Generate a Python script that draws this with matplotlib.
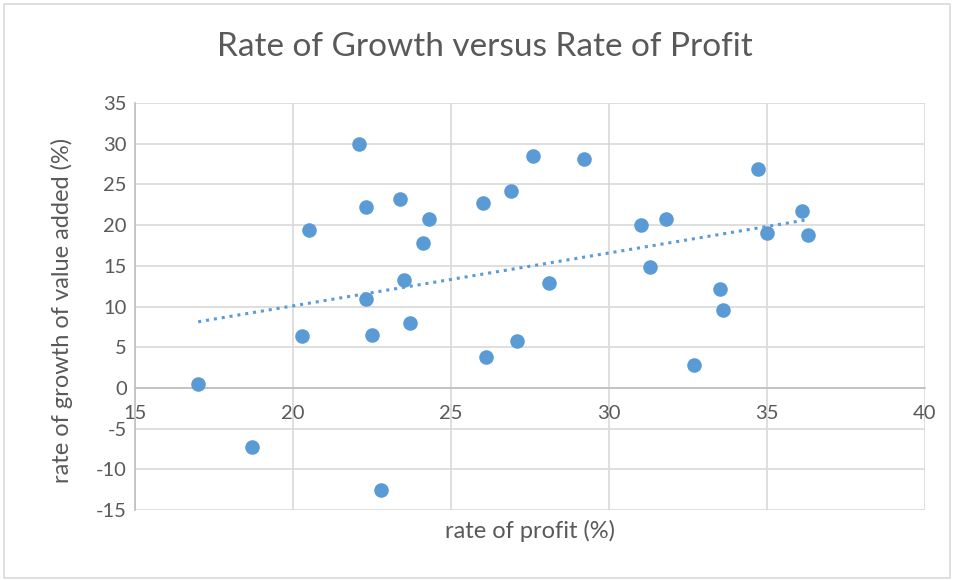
import numpy as np
import matplotlib.pyplot as plt
from matplotlib.patches import Rectangle

plt.rcParams['font.family'] = ['Lato', 'DejaVu Sans']
plt.rcParams['axes.unicode_minus'] = False

# rate of profit (%) and rate of growth of value added (%)
profit = [17.0, 18.7, 20.3, 20.5, 22.1, 22.3, 22.3, 22.5, 22.8, 23.4, 23.5,
          23.7, 24.1, 24.3, 26.0, 26.1, 26.9, 27.1, 27.6, 28.1, 29.2, 31.0,
          31.3, 31.8, 32.7, 33.5, 33.6, 34.7, 35.0, 36.1, 36.3]
growth = [0.5, -7.3, 6.4, 19.4, 30.0, 22.2, 10.9, 6.5, -12.5, 23.2, 13.2,
          8.0, 17.8, 20.8, 22.7, 3.8, 24.2, 5.8, 28.5, 12.9, 28.1, 20.0,
          14.9, 20.8, 2.8, 12.2, 9.6, 26.9, 19.0, 21.7, 18.8]

x_ticks = [15, 20, 25, 30, 35, 40]
y_ticks = [-15, -10, -5, 0, 5, 10, 15, 20, 25, 30, 35]

blue = '#5b9bd5'
grey_text = '#595959'

fig = plt.figure(figsize=(9.6, 5.8), dpi=100)
ax = fig.add_axes([135 / 960, 1 - 510 / 580, (925 - 135) / 960, (510 - 103) / 580])

ax.scatter(profit, growth, s=110, color=blue, zorder=3, linewidths=0)

# linear trendline over the data range
k, b = np.polyfit(profit, growth, 1)
xs = np.array([min(profit), max(profit)])
ax.plot(xs, k * xs + b, color=blue, lw=2.2, ls=(0, (1, 1.6)), zorder=2)

ax.set_xlim(15, 40)
ax.set_ylim(-15, 35)
ax.set_xticks(x_ticks)
ax.set_yticks(y_ticks)
ax.grid(True, color='#d9d9d9', lw=1.2, zorder=0)
ax.set_axisbelow(True)

for side in ['top', 'right']:
    ax.spines[side].set_visible(False)
ax.spines['bottom'].set_position(('data', 0))
ax.spines['bottom'].set_color('#bfbfbf')
ax.spines['bottom'].set_linewidth(1.2)
ax.spines['left'].set_color('#bfbfbf')
ax.spines['left'].set_linewidth(1.2)

ax.tick_params(length=0, labelsize=14.5, labelcolor=grey_text)
ax.tick_params(axis='x', pad=12)
ax.tick_params(axis='y', pad=6)

fig.text(530 / 960, 1 - 531 / 580, 'rate of profit (%)', ha='center', va='center',
         fontsize=17, color=grey_text)
fig.text(62 / 960, 1 - 310 / 580, 'rate of growth of value added (%)', ha='center',
         va='center', rotation=90, fontsize=17, color=grey_text)
fig.text(485 / 960, 1 - 47 / 580, 'Rate of Growth versus Rate of Profit', ha='center',
         va='center', fontsize=24, color=grey_text)

fig.patches.append(Rectangle((4 / 960, 2 / 580), 946 / 960, 574 / 580,
                             transform=fig.transFigure, fill=False,
                             edgecolor='#d9d9d9', lw=1.2))

fig.savefig('out.png', dpi=100)
